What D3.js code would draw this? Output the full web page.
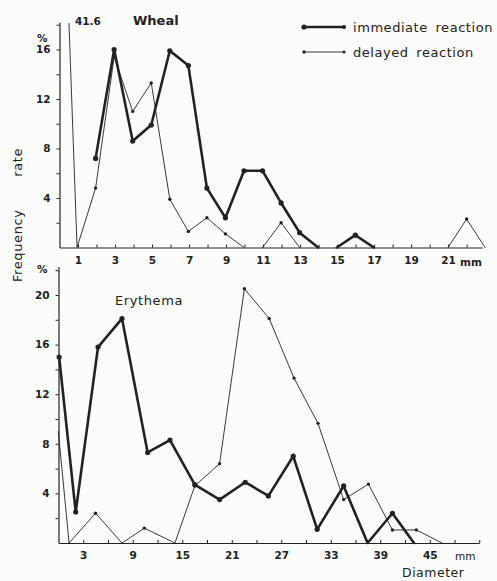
<!DOCTYPE html>
<html>
<head>
<meta charset="utf-8">
<script src="https://cdn.jsdelivr.net/npm/d3@7"></script>
<style>
  body { margin: 0; background: #fcfcfa; }
  svg { display: block; font-family: "DejaVu Sans", sans-serif; }
</style>
</head>
<body>
<div id="chart"></div>
<script>
// Wheal panel: diameter in mm, frequency rate in %
const whealMm = [0,1,2,3,4,5,6,7,8,9,10,11,12,13,14,15,16,17,18,19,20,21,22,23];
const whealImmediate = [null,null,7.2,16.0,8.6,9.9,15.9,14.7,4.8,2.4,6.2,6.2,3.6,1.2,0,0,1.0,0,null,null,null,null,null,null];
const whealDelayed = [41.6,0,4.8,15.4,11.0,13.3,3.9,1.3,2.4,1.1,0,0,2.0,0,0,0,0,0,0,0,0,0,2.3,0];
const whealXLabels = [1,3,5,7,9,11,13,15,17,19,21];
const whealYLabels = [4,8,12,16];

// Erythema panel
const eryImmediateMm = [0.2,2.2,4.9,7.8,10.9,13.6,16.6,19.6,22.7,25.5,28.5,31.4,34.6,37.5,40.5,43.1];
const eryImmediate = [15.0,2.5,15.8,18.1,7.3,8.3,4.7,3.5,4.9,3.8,7.0,1.1,4.6,0,2.4,0];
const eryDelayedMm = [0.1,1.4,4.6,7.8,10.5,14.2,16.6,19.6,22.6,25.6,28.6,31.5,34.6,37.6,40.5,43.4,46.5];
const eryDelayed = [9.0,0,2.4,0,1.2,0,4.6,6.4,20.5,18.1,13.3,9.65,3.5,4.75,1.05,1.05,0];
const eryXLabels = [3,9,15,21,27,33,39,45];
const eryYLabels = [4,8,12,16,20];

const ink = "#222";
const width = 497, height = 581;

const svg = d3.select("#chart").append("svg")
    .attr("width", width)
    .attr("height", height);

// split a series into drawable runs: skip nulls and segments lying on the axis
function runs(xs, vs) {
    const out = [];
    let cur = [];
    for (let i = 0; i < vs.length; i++) {
        if (vs[i] == null) { if (cur.length > 1) out.push(cur); cur = []; continue; }
        if (cur.length && vs[i] === 0 && cur[cur.length - 1][1] === 0) {
            if (cur.length > 1) out.push(cur);
            cur = [];
        }
        cur.push([xs[i], vs[i]]);
    }
    if (cur.length > 1) out.push(cur);
    return out;
}

function drawSeries(g, x, y, xs, vs, thick, skipFirstDot) {
    const line = d3.line().x(d => x(d[0])).y(d => y(d[1]));
    g.selectAll(null)
        .data(runs(xs, vs))
        .enter().append("path")
        .attr("d", line)
        .attr("fill", "none")
        .attr("stroke", ink)
        .attr("stroke-width", thick ? 2.6 : 0.9)
        .attr("stroke-linejoin", "round")
        .attr("stroke-linecap", "round");
    const pts = xs.map((m, i) => [m, vs[i], i])
        .filter(d => d[1] != null && d[1] > 0 && d[1] < 30 && !(skipFirstDot && d[2] === 0));
    g.selectAll(null)
        .data(pts)
        .enter().append("circle")
        .attr("cx", d => x(d[0]))
        .attr("cy", d => y(d[1]))
        .attr("r", thick ? 2.6 : 1.7)
        .attr("fill", ink);
}

function styleAxis(g) {
    g.select(".domain").attr("stroke", ink).attr("stroke-width", 1.2);
    g.selectAll(".tick line").attr("stroke", ink).attr("stroke-width", 1);
    g.selectAll(".tick text")
        .attr("fill", ink)
        .style("font-size", "10.5px")
        .style("font-weight", "bold")
        .style("font-family", "'DejaVu Sans', sans-serif");
}

// ---------- Wheal ----------
const x1 = d3.scaleLinear().domain([0, 23]).range([58.5, 58.5 + 23 * 18.55]);
const y1 = d3.scaleLinear().domain([0, 18.2]).range([247.5, 247.5 - 18.2 * 12.375]);

svg.append("clipPath").attr("id", "clipTop")
    .append("rect").attr("x", 55).attr("y", 23).attr("width", 440).attr("height", 240);

const gx1 = svg.append("g")
    .attr("transform", `translate(0,${y1(0)})`)
    .call(d3.axisBottom(x1.copy().domain([0, 22.85]).range([59.5, 58.5 + 22.85 * 18.55]))
        .tickValues(d3.range(1, 23))
        .tickSize(-3).tickSizeOuter(0).tickPadding(9)
        .tickFormat(d => whealXLabels.includes(d) ? d : ""));
styleAxis(gx1);

const gy1 = svg.append("g")
    .attr("transform", `translate(59.5,0)`)
    .call(d3.axisLeft(y1).tickValues([2,4,6,8,10,12,14,16,18])
        .tickSize(3).tickSizeOuter(0).tickPadding(6)
        .tickFormat(d => whealYLabels.includes(d) ? d : ""));
styleAxis(gy1);

const whealG = svg.append("g").attr("clip-path", "url(#clipTop)");
drawSeries(whealG, x1, y1, whealMm, whealDelayed, false, true);
drawSeries(whealG, x1, y1, whealMm, whealImmediate, true, false);

svg.append("text").attr("x", 75).attr("y", 25)
    .style("font-size", "10.5px").style("font-weight", "bold").attr("fill", ink).text("41.6");
svg.append("text").attr("x", 133).attr("y", 25)
    .style("font-size", "13px").style("font-weight", "bold").attr("fill", ink).text("Wheal");
svg.append("text").attr("x", 37).attr("y", 42)
    .style("font-size", "10.5px").style("font-weight", "bold").attr("fill", ink).text("%");
svg.append("text").attr("x", 460).attr("y", 266)
    .style("font-size", "10.5px").style("font-weight", "bold").attr("fill", ink).text("mm");

// legend
const legend = [
    {label: "immediate reaction", thick: true, y: 27},
    {label: "delayed reaction", thick: false, y: 52}
];
const lg = svg.selectAll(".legend").data(legend).enter().append("g").attr("class", "legend");
lg.append("line")
    .attr("x1", 304).attr("x2", 344).attr("y1", d => d.y).attr("y2", d => d.y)
    .attr("stroke", ink).attr("stroke-width", d => d.thick ? 2.4 : 0.9);
lg.append("circle").attr("cx", 304).attr("cy", d => d.y).attr("r", d => d.thick ? 2.6 : 1.7).attr("fill", ink);
lg.append("circle").attr("cx", 344).attr("cy", d => d.y).attr("r", d => d.thick ? 2 : 1.5).attr("fill", ink);
lg.append("text")
    .attr("x", 353).attr("y", d => d.y + 4.5)
    .style("font-size", "13px").style("letter-spacing", "0.55px").style("word-spacing", "3px")
    .attr("fill", ink)
    .text(d => d.label);

// y label
svg.append("text")
    .attr("transform", "translate(22,215) rotate(-90)")
    .attr("text-anchor", "middle")
    .style("font-size", "13px").style("letter-spacing", "0.6px").style("word-spacing", "28px")
    .attr("fill", ink)
    .text("Frequency rate");

// ---------- Erythema ----------
const x2 = d3.scaleLinear().domain([0, 51]).range([57.5, 57.5 + 51 * 8.27]);
const y2 = d3.scaleLinear().domain([0, 22.3]).range([543, 543 - 22.3 * 12.4]);

const gx2 = svg.append("g")
    .attr("transform", `translate(0,${y2(0)})`)
    .call(d3.axisBottom(x2.copy().range([58.5, 57.5 + 51 * 8.27]))
        .tickValues(d3.range(3, 52, 3))
        .tickSize(-3).tickSizeOuter(0).tickPadding(9)
        .tickFormat(d => eryXLabels.includes(d) ? d : ""));
styleAxis(gx2);

const gy2 = svg.append("g")
    .attr("transform", `translate(58.5,0)`)
    .call(d3.axisLeft(y2).tickValues([2,4,6,8,10,12,14,16,18,20,22])
        .tickSize(3).tickSizeOuter(0).tickPadding(6)
        .tickFormat(d => eryYLabels.includes(d) ? d : ""));
styleAxis(gy2);

const eryG = svg.append("g");
drawSeries(eryG, x2, y2, eryDelayedMm, eryDelayed, false, true);
drawSeries(eryG, x2, y2, eryImmediateMm, eryImmediate, true, false);

svg.append("text").attr("x", 115).attr("y", 305)
    .style("font-size", "13px").style("letter-spacing", "0.6px").attr("fill", ink).text("Erythema");
svg.append("text").attr("x", 37).attr("y", 273)
    .style("font-size", "10.5px").style("font-weight", "bold").attr("fill", ink).text("%");
svg.append("text").attr("x", 455).attr("y", 560)
    .style("font-size", "10.5px").attr("fill", ink).text("mm");
svg.append("text").attr("x", 402).attr("y", 577)
    .style("font-size", "12.5px").style("letter-spacing", "0.5px").attr("fill", ink).text("Diameter");
</script>
</body>
</html>
